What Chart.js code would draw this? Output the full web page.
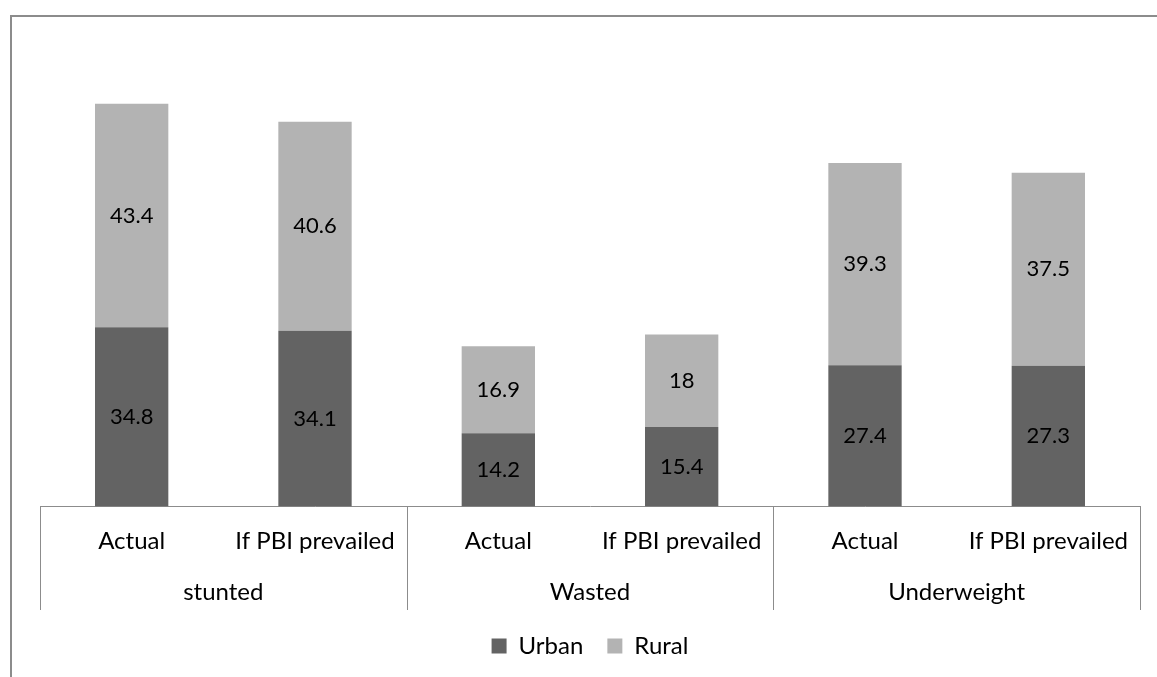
<!DOCTYPE html>
<html>
<head>
<meta charset="utf-8">
<script src="https://cdn.jsdelivr.net/npm/chart.js@4"></script>
<style>
  body { margin: 0; background: #fff; overflow: hidden; }
  #frame { position: absolute; left: 10px; top: 15px; width: 1300px; height: 800px; border: 2px solid #8c8c8c; }
  #wrap { position: absolute; left: 0; top: 0; width: 1157px; height: 677px; }
</style>
</head>
<body>
<div id="frame"></div>
<div id="wrap"><canvas id="chart"></canvas></div>
<script>
// Données
const scenarios = ['Actual', 'If PBI prevailed', 'Actual', 'If PBI prevailed', 'Actual', 'If PBI prevailed'];
const groups = ['stunted', 'Wasted', 'Underweight'];
const urban = [34.8, 34.1, 14.2, 15.4, 27.4, 27.3];
const rural = [43.4, 40.6, 16.9, 18, 39.3, 37.5];

const FONT = 'Lato';
const AXIS_GREY = '#8c8c8c';

// Valeurs au centre de chaque segment
const valueLabels = {
  id: 'valueLabels',
  afterDatasetsDraw(chart) {
    const ctx = chart.ctx;
    ctx.save();
    ctx.font = '22px ' + FONT;
    ctx.fillStyle = '#000';
    ctx.textAlign = 'center';
    ctx.textBaseline = 'middle';
    chart.data.datasets.forEach((ds, i) => {
      chart.getDatasetMeta(i).data.forEach((bar, j) => {
        const p = bar.getProps(['x', 'y', 'base'], true);
        ctx.fillText(String(ds.data[j]), p.x, (p.y + p.base) / 2);
      });
    });
    ctx.restore();
  }
};

// Séparateurs verticaux entre les groupes
const groupLines = {
  id: 'groupLines',
  afterDraw(chart) {
    const x = chart.scales.x, x2 = chart.scales.x2;
    const step = x2.getPixelForValue(1) - x2.getPixelForValue(0);
    const ctx = chart.ctx;
    ctx.save();
    ctx.strokeStyle = AXIS_GREY;
    ctx.lineWidth = 1;
    for (let i = 0; i <= groups.length; i++) {
      const px = Math.round(x2.getPixelForValue(0) - step / 2 + i * step) + 0.5;
      ctx.beginPath();
      ctx.moveTo(px, x.top);
      ctx.lineTo(px, x2.bottom);
      ctx.stroke();
    }
    ctx.restore();
  }
};

new Chart(document.getElementById('chart'), {
  type: 'bar',
  data: {
    labels: scenarios,
    datasets: [
      { label: 'Urban', data: urban, backgroundColor: '#636363', xAxisID: 'x' },
      { label: 'Rural', data: rural, backgroundColor: '#b3b3b3', xAxisID: 'x' }
    ]
  },
  options: {
    responsive: true,
    maintainAspectRatio: false,
    animation: false,
    categoryPercentage: 1,
    barPercentage: 0.4,
    layout: { padding: { left: 40, right: 17, top: 43, bottom: 9 } },
    scales: {
      x: {
        stacked: true,
        grid: { display: false, drawTicks: false },
        border: { display: true, color: AXIS_GREY, width: 1 },
        ticks: { color: '#000', font: { family: FONT, size: 24 }, padding: 20, maxRotation: 0, autoSkip: false }
      },
      x2: {
        type: 'category',
        labels: groups,
        position: 'bottom',
        offset: true,
        grid: { display: false, drawTicks: false },
        border: { display: false },
        ticks: { color: '#000', font: { family: FONT, size: 24 }, padding: 3 }
      },
      y: {
        stacked: true,
        min: 0,
        max: 90,
        display: false
      }
    },
    plugins: {
      legend: {
        position: 'bottom',
        labels: {
          color: '#000',
          font: { family: FONT, size: 24 },
          boxWidth: 15,
          boxHeight: 15,
          padding: 24
        }
      },
      tooltip: { enabled: false }
    }
  },
  plugins: [valueLabels, groupLines]
});
</script>
</body>
</html>
